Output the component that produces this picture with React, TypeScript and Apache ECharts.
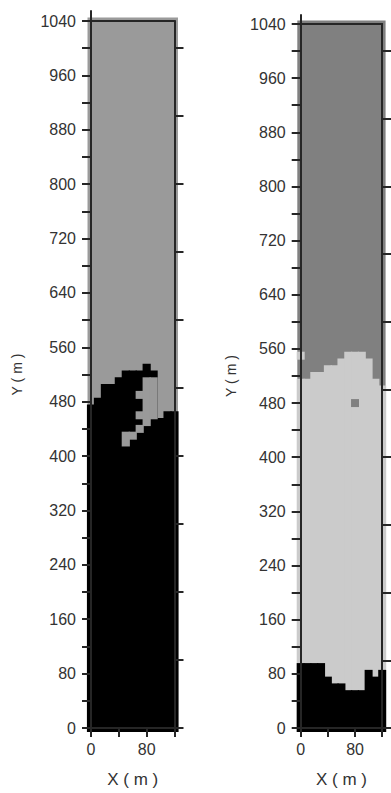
import React, { useEffect, useRef } from 'react';
import * as echarts from 'echarts';

// ---- data (cell centres in metres, 10 m cells) ----
const xCells = [0, 10, 20, 30, 40, 50, 60, 70, 80, 90, 100, 110, 120];
const CELL = 10;
const yMinCell = 0;
const yMaxCell = 1040;

// Left panel: top of black zone per column, gray pockets [x, yLow, yHigh]
const leftBlackTop = [470, 480, 500, 500, 510, 520, 520, 520, 530, 520, 450, 460, 460];
const leftGrayPockets = [
  [70, 490, 490],
  [70, 460, 460],
  [70, 440, 440],
  [80, 450, 510],
  [90, 460, 510],
  [50, 420, 430],
  [60, 430, 430],
];

// Right panel: top of light zone and top of black zone per column
const rightLightTop = [510, 510, 520, 520, 530, 530, 540, 550, 550, 550, 540, 510, 500];
const rightBlackTop = [90, 90, 90, 90, 70, 60, 60, 50, 50, 50, 80, 70, 80];
const rightLightPatches = [[0, 550, 550]];
const rightDarkPatches = [[80, 480, 480]];

// axis ticks
const X_TICK_STEP = 40;
const X_LABEL_STEP = 80;
const Y_TICK_STEP = 40;
const Y_LABEL_STEP = 80;
const RIGHT_TICK_STEP = 100;
const rightTickValues = [0, 100, 200, 300, 400, 500, 600, 700, 800, 900, 1000];
const X_MIN = 0;
const X_MAX = 120;
const Y_MIN = 0;
const Y_MAX = 1040;

const LEFT_COLORS = ['#9a9a9a', '#000000'];
const RIGHT_COLORS = ['#808080', '#cbcbcb', '#000000'];

const FONT = '"Liberation Sans", Arial, sans-serif';
const AXIS_COLOR = '#262626';
const TEXT_COLOR = '#333333';
const OVERLAP = 0.6; // px, hides anti-aliasing seams between adjacent cells

function buildLeft(): number[][] {
  const items: number[][] = [[xCells[0], xCells[xCells.length - 1], yMinCell, yMaxCell, 0]];
  xCells.forEach((x, i) => items.push([x, x, yMinCell, leftBlackTop[i], 1]));
  leftGrayPockets.forEach(([x, lo, hi]) => items.push([x, x, lo, hi, 0]));
  return items;
}

function buildRight(): number[][] {
  const items: number[][] = [[xCells[0], xCells[xCells.length - 1], yMinCell, yMaxCell, 0]];
  xCells.forEach((x, i) => items.push([x, x, yMinCell, rightLightTop[i], 1]));
  xCells.forEach((x, i) => items.push([x, x, yMinCell, rightBlackTop[i], 2]));
  rightLightPatches.forEach(([x, lo, hi]) => items.push([x, x, lo, hi, 1]));
  rightDarkPatches.forEach(([x, lo, hi]) => items.push([x, x, lo, hi, 0]));
  return items;
}

const makeRender = (colors: string[]) => (params: any, api: any) => {
  const x0 = api.value(0);
  const x1 = api.value(1);
  const y0 = api.value(2);
  const y1 = api.value(3);
  const cls = api.value(4);
  const a = api.coord([x0 - CELL / 2, y1 + CELL / 2]);
  const b = api.coord([x1 + CELL / 2, y0 - CELL / 2]);
  const pad = params.dataIndex === 0 ? 0 : OVERLAP;
  return {
    type: 'rect',
    shape: {
      x: a[0] - pad,
      y: a[1] - pad,
      width: b[0] - a[0] + 2 * pad,
      height: b[1] - a[1] + 2 * pad,
    },
    style: { fill: colors[cls] },
  };
};

const lineStyle = { color: AXIS_COLOR, width: 2 };

function panelAxes(boxGrid: number, extGrid: number, extMax: number, yNameGap: number) {
  const xAxes = [
    {
      gridIndex: boxGrid, type: 'value', min: X_MIN, max: X_MAX, interval: X_TICK_STEP,
      position: 'bottom', z: 5,
      axisLine: { show: true, onZero: false, lineStyle },
      axisTick: { show: true, inside: false, length: 9, lineStyle },
      axisLabel: {
        show: true, margin: 13, fontSize: 16, color: TEXT_COLOR, fontFamily: FONT,
        formatter: (v: number) => (v % X_LABEL_STEP === 0 ? String(v) : ''),
      },
      splitLine: { show: false },
      name: 'X ( m )', nameLocation: 'middle', nameGap: 43,
      nameTextStyle: { fontSize: 17, color: TEXT_COLOR, fontFamily: FONT },
    },
    {
      gridIndex: boxGrid, type: 'value', min: X_MIN, max: X_MAX, position: 'top', z: 5,
      axisLine: { show: true, onZero: false, lineStyle },
      axisTick: { show: false }, axisLabel: { show: false }, splitLine: { show: false },
    },
    { gridIndex: extGrid, type: 'value', min: X_MIN, max: X_MAX, show: false },
  ];
  const yAxes = [
    {
      gridIndex: boxGrid, type: 'value', min: Y_MIN, max: Y_MAX, interval: Y_TICK_STEP,
      position: 'left', z: 5,
      axisLine: { show: true, onZero: false, lineStyle },
      axisTick: { show: true, inside: false, length: 9, lineStyle },
      axisLabel: {
        show: true, margin: 15, fontSize: 16, color: TEXT_COLOR, fontFamily: FONT,
        formatter: (v: number) => (v % Y_LABEL_STEP === 0 ? String(v) : ''),
      },
      splitLine: { show: false },
      name: 'Y ( m )', nameLocation: 'middle', nameGap: yNameGap,
      nameTextStyle: { fontSize: 14, color: TEXT_COLOR, fontFamily: FONT },
    },
    {
      gridIndex: boxGrid, type: 'value', min: Y_MIN, max: Y_MAX, interval: RIGHT_TICK_STEP,
      position: 'right', z: 5,
      axisLine: { show: true, onZero: false, lineStyle },
      axisTick: { show: true, inside: false, length: 9, lineStyle, customValues: rightTickValues },
      axisLabel: { show: false }, splitLine: { show: false },
    },
    {
      gridIndex: extGrid, type: 'value', min: Y_MIN, max: extMax, position: 'left', z: 5,
      axisLine: { show: true, onZero: false, lineStyle },
      axisTick: { show: false }, axisLabel: { show: false }, splitLine: { show: false },
    },
  ];
  return { xAxes, yAxes };
}

export default function App() {
  const ref = useRef<HTMLDivElement>(null);
  useEffect(() => {
    if (!ref.current) return;
    const chart = echarts.init(ref.current, null, { renderer: 'svg' });
    const L = panelAxes(0, 1, 1040 * 722 / 712, 67);
    const R = panelAxes(2, 3, 1040 * 719 / 710, 63);
    const option: any = {
      animation: false,
      backgroundColor: '#ffffff',
      grid: [
        { left: 91, top: 21, width: 83.5, height: 712 },
        { left: 91, top: 11, width: 83.5, height: 722 },
        { left: 300.7, top: 24, width: 81.5, height: 710 },
        { left: 300.7, top: 15, width: 81.5, height: 719 },
      ],
      xAxis: [...L.xAxes, ...R.xAxes],
      yAxis: [...L.yAxes, ...R.yAxes],
      series: [
        {
          type: 'custom', xAxisIndex: 0, yAxisIndex: 0, z: 1, clip: false,
          renderItem: makeRender(LEFT_COLORS), data: buildLeft(),
          encode: { x: [0, 1], y: [2, 3] }, silent: true,
        },
        {
          type: 'custom', xAxisIndex: 3, yAxisIndex: 3, z: 1, clip: false,
          renderItem: makeRender(RIGHT_COLORS), data: buildRight(),
          encode: { x: [0, 1], y: [2, 3] }, silent: true,
        },
      ],
    };
    chart.setOption(option);
    return () => chart.dispose();
  }, []);
  return (
    <div
      ref={ref}
      style={{ position: 'absolute', left: 0, top: 0, width: 391, height: 793 }}
    />
  );
}
